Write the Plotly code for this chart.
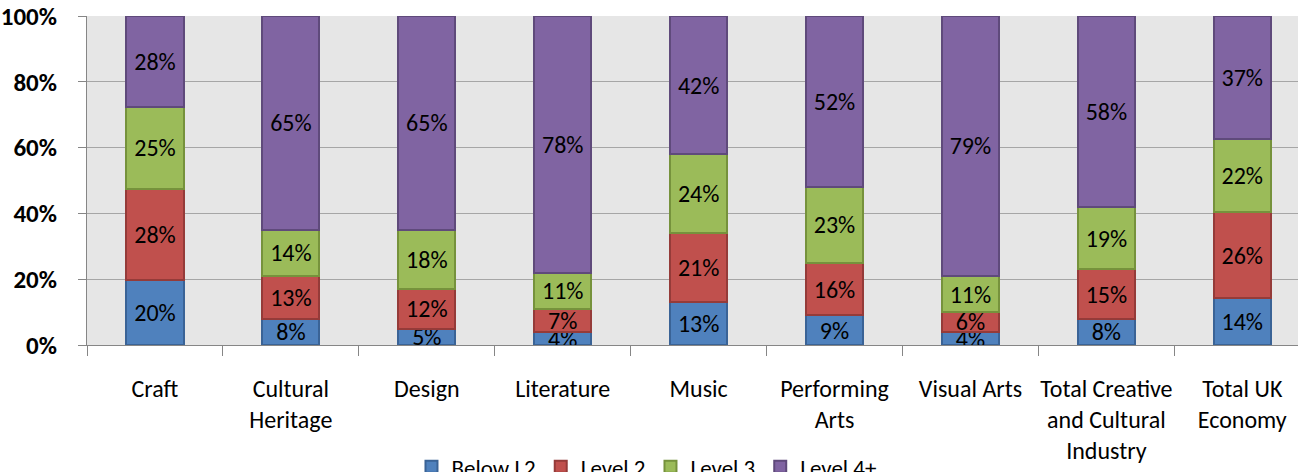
import plotly.graph_objects as go

categories = ["Craft", "Cultural<br>Heritage", "Design", "Literature", "Music",
              "Performing<br>Arts", "Visual Arts", "Total Creative<br>and Cultural<br>Industry",
              "Total UK<br>Economy"]
series_names = ["Below L2", "Level 2", "Level 3", "Level 4+"]
below_l2 = [20, 8, 5, 4, 13, 9, 4, 8, 14]
level_2 = [28, 13, 12, 7, 21, 16, 6, 15, 26]
level_3 = [25, 14, 18, 11, 24, 23, 11, 19, 22]
level_4 = [28, 65, 65, 78, 42, 52, 79, 58, 37]
y_ticks = [0, 20, 40, 60, 80, 100]

fills = ["#4F81BD", "#C0504D", "#9BBB59", "#8064A2"]
lines = ["#3A6396", "#953B39", "#76923C", "#5F4A7B"]

FONT = "Carlito, Lato, 'Liberation Sans Narrow', sans-serif"

fig = go.Figure()
for name, vals, fc, lc in zip(series_names, [below_l2, level_2, level_3, level_4], fills, lines):
    fig.add_trace(go.Bar(
        x=categories, y=vals, name=name,
        marker=dict(color=fc, line=dict(color=lc, width=2)),
        text=[f"{v}%" for v in vals],
        textposition="inside", insidetextanchor="middle", textangle=0,
        textfont=dict(color="black", size=24, family=FONT),
    ))

fig.update_layout(
    barmode="stack", barnorm="percent", bargap=0.58,
    width=1309, height=472,
    margin=dict(l=87, r=11, t=16, b=127, autoexpand=False),
    plot_bgcolor="#E6E6E6", paper_bgcolor="white",
    font=dict(family=FONT, size=24, color="black"),
    uniformtext=dict(minsize=24, mode="show"),
    legend=dict(orientation="h", x=0.462, xanchor="center", y=-0.37, yanchor="middle",
                font=dict(size=23), traceorder="normal", itemwidth=30,
                bgcolor="rgba(0,0,0,0)"),
    showlegend=True,
)
fig.update_xaxes(
    range=[-0.5, 8.41], tickson="boundaries", ticks="outside", ticklen=10,
    tickcolor="#868686", showline=True, linecolor="#868686", linewidth=1,
    showgrid=False, tickfont=dict(size=24), tickangle=0, ticklabelstandoff=22,
    automargin=False,
)
fig.update_yaxes(
    range=[0, 100], tickvals=y_ticks, ticktext=[f"<b>{v}%</b>" for v in y_ticks],
    ticks="outside", ticklen=8, tickcolor="#868686",
    showline=True, linecolor="#868686", linewidth=1,
    showgrid=True, gridcolor="#A6A6A6", gridwidth=1, zeroline=False,
    tickfont=dict(size=25), ticklabelstandoff=16, automargin=False,
)
fig.write_html("out.html", config={"displayModeBar": False},
               post_script="document.body.style.margin='0';document.body.style.overflow='hidden';")
